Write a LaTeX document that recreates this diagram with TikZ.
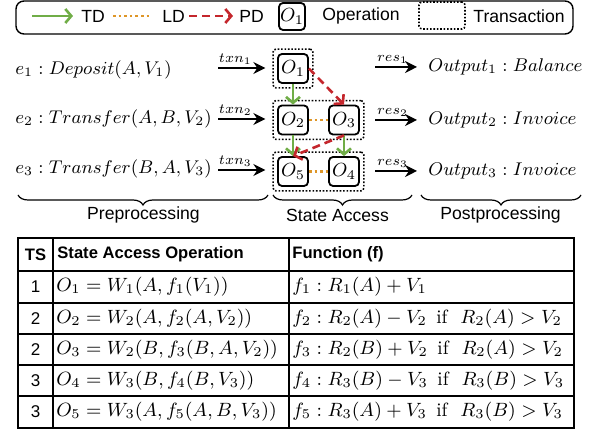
\RequirePackage{fix-cm}
\documentclass[tikz,border=0pt]{standalone}
\usepackage{amsmath}
\usepackage{fontspec}
\newfontfamily\arial{Liberation Sans}
\usepackage{tikz}
\usetikzlibrary{arrows.meta,fit,decorations.pathreplacing}
\definecolor{tdgreen}{RGB}{112,173,71}
\definecolor{ldorange}{RGB}{222,150,40}
\definecolor{pdred}{RGB}{196,38,44}
\tikzset{
  opbox/.style={draw, rounded corners=2pt, line width=0.9pt, minimum width=15pt, minimum height=14.5pt, inner sep=0pt, font=\fontsize{9.5}{11}\selectfont},
  txnbox/.style={draw, line width=0.8pt, dash pattern=on 0.8pt off 0.9pt, rounded corners=1.5pt, inner sep=2pt},
  tdarr/.style={tdgreen, line width=1.3pt, -{Straight Barb[length=3pt,width=7pt]}},
  ldline/.style={ldorange, line width=1.4pt, dash pattern=on 1.3pt off 1.5pt},
  pdarr/.style={pdred, line width=1.3pt, dash pattern=on 4pt off 2.5pt, -{Straight Barb[length=3pt,width=7pt]}},
  flow/.style={line width=0.6pt, -{Stealth[length=6pt,width=6pt,inset=2pt]}},
  lbl/.style={font=\fontsize{7}{8}\selectfont, above, inner sep=1.5pt},
  ev/.style={anchor=west, inner sep=0pt, font=\fontsize{9.2}{11}\selectfont},
  legtext/.style={font=\arial\fontsize{8.8}{10}\selectfont, anchor=west, inner sep=0pt},
  thead/.style={font=\arial\bfseries\fontsize{8.3}{10}\selectfont, inner sep=0pt},
  tnum/.style={font=\arial\fontsize{8.5}{10}\selectfont, inner sep=0pt},
  cell/.style={anchor=west, inner sep=0pt, font=\fontsize{9.6}{11}\selectfont}
}

\begin{document}
\begin{tikzpicture}[x=0.5pt,y=-0.5pt]
\useasboundingbox (0,0) rectangle (595,431);

% legend
    \draw[rounded corners=4pt, line width=0.7pt] (16,1) rectangle (573,34);
\coordinate (tda) at (32,16);
\coordinate (tdb) at (73,16);
    \draw[tdarr] (tda) -- (tdb);
\node[legtext] (tdlab) at (81,16) {TD};
\coordinate (lda) at (113,16);
\coordinate (ldb) at (151,16);
    \draw[ldline] (lda) -- (ldb);
\node[legtext] (ldlab) at (162,16) {LD};
\coordinate (pda) at (189,16);
\coordinate (pdb) at (233,16);
    \draw[pdarr] (pda) -- (pdb);
\node[legtext] (pdlab) at (239,16) {PD};
\node[opbox, minimum width=13pt, minimum height=13.5pt] (legop) at (292,16.5) {$O_1$};
\node[legtext] (oplab) at (322,16) {Operation};
\node[txnbox, minimum width=23pt, minimum height=13.5pt, inner sep=0pt] (legtx) at (442,15.5) {};
\node[legtext] (txlab) at (473,16) {Transaction};

% events
\node[ev] (e1) at (15,70) {$e_1 : Deposit(A, V_1)$};
\node[ev] (e2) at (15,119) {$e_2 : Transfer(A, B, V_2)$};
\node[ev] (e3) at (15,169) {$e_3 : Transfer(B, A, V_3)$};

% operations
\node[opbox] (o1) at (293,68.5) {$O_1$};
\node[opbox] (o2) at (293,120) {$O_2$};
\node[opbox] (o3) at (344,120) {$O_3$};
\node[opbox] (o5) at (293,171.5) {$O_5$};
\node[opbox] (o4) at (344,171.5) {$O_4$};
\node[txnbox, fit=(o1)] (tx1) {};
\node[txnbox, fit=(o2)(o3)] (tx2) {};
\node[txnbox, fit=(o5)(o4)] (tx3) {};

% txn arrows
\coordinate (in1) at (218,68);
\coordinate (in2) at (218,119);
\coordinate (in3) at (218,170);
    \draw[flow, shorten >=3.5pt] (in1) -- node[lbl, pos=0.32]{$txn_1$} (in1 -| tx1.west);
    \draw[flow, shorten >=3.5pt] (in2) -- node[lbl, pos=0.32]{$txn_2$} (in2 -| tx2.west);
    \draw[flow, shorten >=3.5pt] (in3) -- node[lbl, pos=0.32]{$txn_3$} (in3 -| tx3.west);

% dependencies
    \draw[tdarr] (o1.south) -- (o2.north);
    \draw[tdarr] (o2.south) -- (o5.north);
    \draw[tdarr] (o3.south) -- (o4.north);
    \draw[ldline] (o2.east) -- (o3.west);
    \draw[ldline] (o5.east) -- (o4.west);
    \draw[pdarr] (o1.east) -- (o3.north);
    \draw[pdarr] (o3.south) -- (o5.north);

% outputs
\node[ev] (out1) at (428,67) {$Output_1 : Balance$};
\node[ev] (out2) at (428,120) {$Output_2 : Invoice$};
\node[ev] (out3) at (428,171) {$Output_3 : Invoice$};
\coordinate (rs1) at (375,67);
\coordinate (rs2) at (375,120);
\coordinate (rs3) at (375,171);
    \draw[flow, shorten >=5.5pt] (rs1) -- node[lbl, pos=0.33]{$res_1$} (rs1 -| out1.west);
    \draw[flow, shorten >=5.5pt] (rs2) -- node[lbl, pos=0.33]{$res_2$} (rs2 -| out2.west);
    \draw[flow, shorten >=5.5pt] (rs3) -- node[lbl, pos=0.33]{$res_3$} (rs3 -| out3.west);

% stages
    \draw[line width=0.6pt, decorate, decoration={brace, mirror, amplitude=5pt}] (18,195) -- (268,195);
    \draw[line width=0.6pt, decorate, decoration={brace, mirror, amplitude=5pt}] (273,195) -- (412,195);
    \draw[line width=0.6pt, decorate, decoration={brace, mirror, amplitude=5pt}] (421,195) -- (581,195);
\node[legtext, anchor=center] (pre) at (143.5,215) {Preprocessing};
\node[legtext, anchor=center] (sa) at (337.5,215) {State Access};
\node[legtext, anchor=center] (post) at (500.5,215) {Postprocessing};

% table
    \draw[line width=0.9pt] (18,238) rectangle (574,428);
    \draw[line width=0.7pt]
(18,271) -- (574,271)
(18,303) -- (574,303)
(18,334) -- (574,334)
(18,365) -- (574,365)
(18,396) -- (574,396)
(53,238) -- (53,428)
(289,238) -- (289,428);
\node[thead] (hts) at (35.5,254.5) {TS};
\node[thead, anchor=west] (hop) at (57,254.5) {State Access Operation};
\node[thead, anchor=west] (hfn) at (292,254.5) {Function (f)};

\node[tnum] (ts1) at (35.5,287) {1};
\node[cell] (op1) at (56,287) {$O_1 = W_1(A, f_1(V_1))$};
\node[cell] (fn1) at (292,287) {$f_1 : R_1(A) + V_1$};

\node[tnum] (ts2) at (35.5,318.5) {2};
\node[cell] (op2) at (56,318.5) {$O_2 = W_2(A, f_2(A, V_2))$};
\node[cell] (fn2) at (292,318.5) {$f_2 : R_2(A) - V_2\enspace\text{if}\enspace\, R_2(A) > V_2$};

\node[tnum] (ts3) at (35.5,349.5) {2};
\node[cell] (op3) at (56,349.5) {$O_3 = W_2(B, f_3(B, A, V_2))$};
\node[cell] (fn3) at (292,349.5) {$f_3 : R_2(B) + V_2\enspace\text{if}\enspace\, R_2(A) > V_2$};

\node[tnum] (ts4) at (35.5,380.5) {3};
\node[cell] (op4) at (56,380.5) {$O_4 = W_3(B, f_4(B, V_3))$};
\node[cell] (fn4) at (292,380.5) {$f_4 : R_3(B) - V_3\enspace\text{if}\enspace\, R_3(B) > V_3$};

\node[tnum] (ts5) at (35.5,412) {3};
\node[cell] (op5) at (56,412) {$O_5 = W_3(A, f_5(A, B, V_3))$};
\node[cell] (fn5) at (292,412) {$f_5 : R_3(A) + V_3\enspace\text{if}\enspace\, R_3(B) > V_3$};
\end{tikzpicture}
\end{document}
